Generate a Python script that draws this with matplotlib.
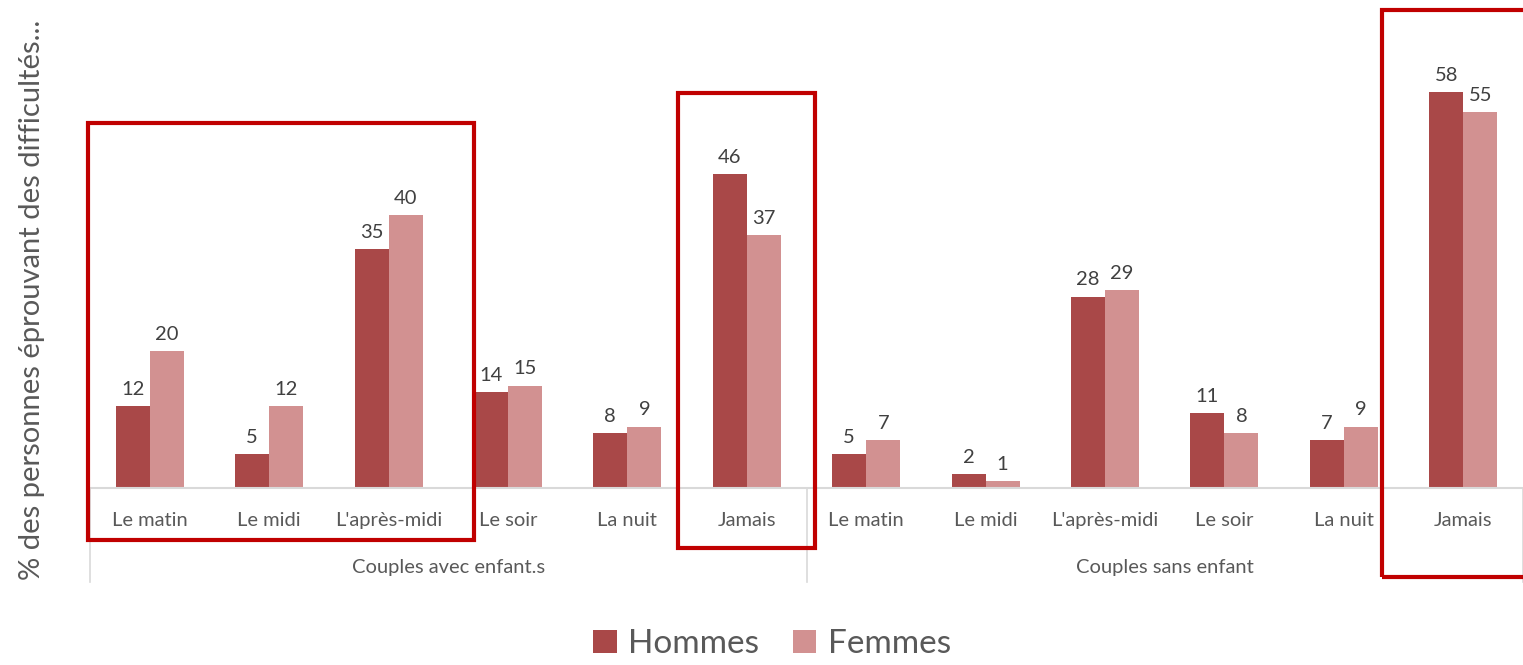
import matplotlib.pyplot as plt
import matplotlib.patches as patches
import numpy as np

plt.rcParams['font.family'] = ['Lato', 'DejaVu Sans']

# Données
groupes = ["Couples avec enfant.s", "Couples sans enfant"]
moments = ["Le matin", "Le midi", "L'après-midi", "Le soir", "La nuit", "Jamais"]
hommes = [12, 5, 35, 14, 8, 46, 5, 2, 28, 11, 7, 58]
femmes = [20, 12, 40, 15, 9, 37, 7, 1, 29, 8, 9, 55]

col_h = '#A94848'
col_f = '#D29191'
gris = '#595959'
gris_ligne = '#D9D9D9'
rouge = '#C00000'

fig = plt.figure(figsize=(15.23, 6.65), dpi=100)
ax = fig.add_axes([90 / 1523, 1 - 488 / 665, 1 - 90 / 1523, (488 - 10) / 665])

x = np.arange(len(hommes))
w = 0.285
b1 = ax.bar(x - w / 2, hommes, w, color=col_h, label='Hommes')
b2 = ax.bar(x + w / 2, femmes, w, color=col_f, label='Femmes')

for barres in (b1, b2):
    for r in barres:
        ax.annotate(f"{int(r.get_height())}", (r.get_x() + r.get_width() / 2, r.get_height()),
                    xytext=(0, 6), textcoords='offset points', ha='center', va='bottom',
                    fontsize=14.5, color='#404040')

ax.set_xlim(-0.5, len(hommes) - 0.5)
ax.set_ylim(0, 70)
ax.set_yticks([])
ax.set_xticks(x)
ax.set_xticklabels(moments * len(groupes), fontsize=14.5, color=gris)
ax.tick_params(axis='x', length=0, pad=17)
for s in ['top', 'right', 'left']:
    ax.spines[s].set_visible(False)
ax.spines['bottom'].set_color(gris_ligne)
ax.spines['bottom'].set_linewidth(1.5)

# Séparateurs et noms des groupes
n = len(moments)
for i in range(len(groupes) + 1):
    ax.plot([i * n - 0.5, i * n - 0.5], [0, -13.8], color=gris_ligne, lw=1.2, clip_on=False)
for i, g in enumerate(groupes):
    ax.text(i * n + (n - 1) / 2, -11.6, g, ha='center', va='center', fontsize=14.5, color=gris)

# Cadres rouges
cadres = [(-0.517, -7.6, 2.716, 53.4), (4.424, -8.8, 5.572, 57.8), (10.32, -13.0, 12.0, 70.0)]
for x0, y0, x1, y1 in cadres:
    ax.add_patch(patches.Rectangle((x0, y0), x1 - x0, y1 - y0, fill=False,
                                   edgecolor=rouge, lw=3, clip_on=False, zorder=5))

fig.text(0.021, 1 - 300 / 665, "% des personnes éprouvant des difficultés...", rotation=90,
         ha='center', va='center', fontsize=21, color=gris)

fig.legend(loc='lower center', bbox_to_anchor=(0.507, -0.036), ncol=2, frameon=False,
           fontsize=24, handlelength=0.7, handleheight=0.7, columnspacing=1.0,
           handletextpad=0.35, labelcolor=gris)

fig.savefig('out.png', dpi=100)
